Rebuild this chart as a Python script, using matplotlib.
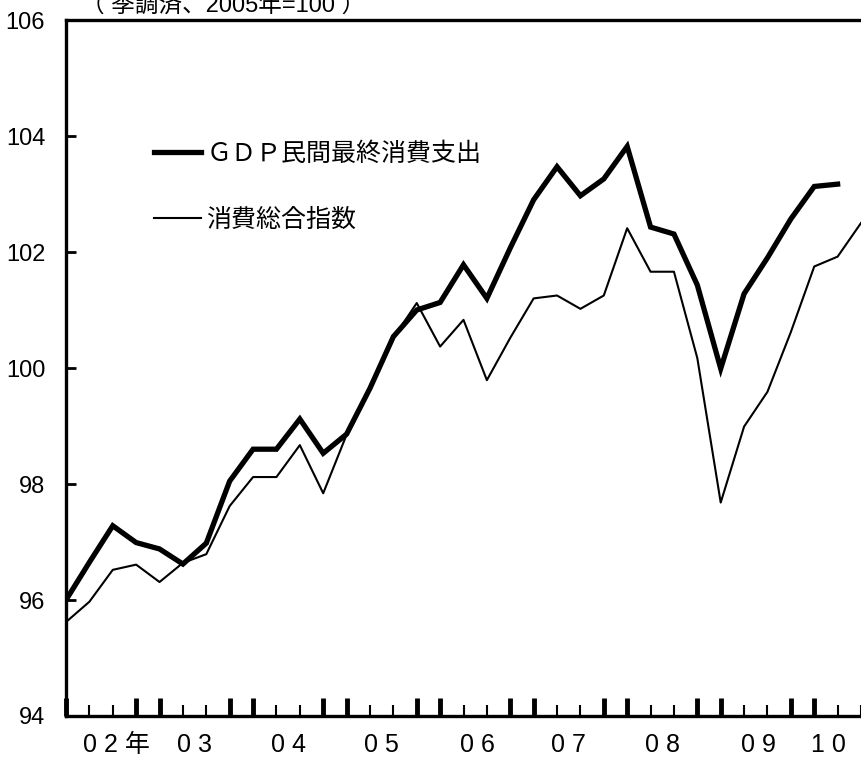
import numpy as np
import matplotlib
matplotlib.use("Agg")
import matplotlib.pyplot as plt

plt.rcParams['font.family'] = ['Liberation Sans', 'Noto Sans CJK JP', 'DejaVu Sans']

# quarterly, 2002Q1 .. 2010Q2 (GDP) / 2010Q3 (consumption index)
gdp = [96.0, 96.65, 97.28, 96.99, 96.88, 96.62, 96.98, 98.05, 98.6, 98.6,
       99.12, 98.53, 98.86, 99.65, 100.54, 101.0, 101.13, 101.78, 101.2, 102.07,
       102.9, 103.47, 102.97, 103.26, 103.82, 102.43, 102.31, 101.43, 99.99, 101.28,
       101.9, 102.57, 103.13, 103.17]
cons = [95.62, 95.97, 96.52, 96.61, 96.31, 96.64, 96.79, 97.62, 98.12, 98.12,
        98.67, 97.84, 98.85, 99.62, 100.52, 101.12, 100.37, 100.83, 99.79, 100.52,
        101.2, 101.25, 101.02, 101.25, 102.41, 101.66, 101.66, 100.17, 97.68, 98.99,
        99.59, 100.62, 101.75, 101.92, 102.5]
year_labels = ["0 2 年", "0 3", "0 4", "0 5", "0 6", "0 7", "0 8", "0 9", "1 0"]
year_pos = [0.72, 5.5, 9.5, 13.5, 17.6, 21.5, 25.5, 29.6, 32.6]
yticks = [94, 96, 98, 100, 102, 104, 106]

fig = plt.figure(figsize=(8.61, 7.6), dpi=100)
ax = fig.add_axes([66 / 861, 44 / 760, (861 - 66) / 861, 696 / 760])

ax.plot(np.arange(len(gdp)), gdp, color='black', lw=3.8, solid_joinstyle='miter',
        label='ＧＤＰ民間最終消費支出')
ax.plot(np.arange(len(cons)), cons, color='black', lw=1.5, label='消費総合指数')

ax.set_xlim(0, (861 - 66) / 23.6)
ax.set_ylim(94, 106)

for s in ['left', 'bottom', 'top']:
    ax.spines[s].set_linewidth(2.4)
ax.spines['right'].set_visible(False)

n = len(cons)
major = [i for i in range(n) if i % 4 in (0, 3)]
minor = [i for i in range(n) if i % 4 in (1, 2)]
ax.set_xticks(major)
ax.set_xticks(minor, minor=True)
ax.set_xticklabels([])
ax.tick_params(axis='x', which='major', direction='in', length=13, width=3.5)
ax.tick_params(axis='x', which='minor', direction='in', length=8, width=1.5)

ax.set_yticks(yticks)
ax.tick_params(axis='y', direction='in', length=7, width=2, pad=15, labelsize=17)

for lab, pos in zip(year_labels, year_pos):
    ha = 'left' if lab.endswith('年') else 'center'
    ax.text(pos, -0.042, lab, transform=ax.get_xaxis_transform(), ha=ha, va='center',
            fontsize=18)

fig.text(81 / 861, 1 - 12 / 760, '（ 季調済、2005年=100 ）', fontsize=17, va='baseline')

ax.legend(loc='upper left', bbox_to_anchor=(0.082, 0.857), frameon=False,
          fontsize=18, handlelength=1.9, handletextpad=0.2, labelspacing=1.68)

fig.savefig('out.png', dpi=100)
